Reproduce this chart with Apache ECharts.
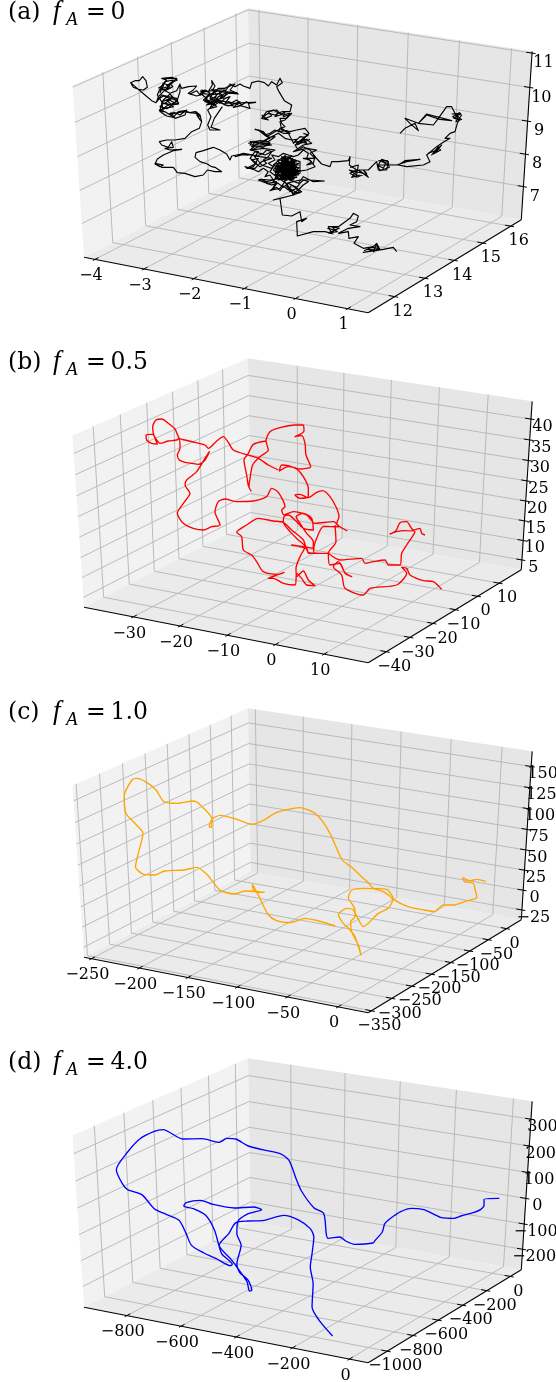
<!DOCTYPE html>
<html><head><meta charset="utf-8">
<style>html,body{margin:0;padding:0;background:#fff}#c{width:556px;height:1382px}</style>
<script src="https://cdn.jsdelivr.net/npm/echarts@6/dist/echarts.min.js"></script>
</head><body><div id="c"></div>
<script>
// ---- axis values ----
const panelLetters=['(a)','(b)','(c)','(d)'];
const panelValues=['0','0.5','1.0','4.0'];
const lineColors=['#000000','#ff0000','#ffa500','#0000ff'];
const xLimA=[-4.225,1.39], yLimA=[11.15,16.39], zLimA=[5.96,11.05];
const xLimB=[-40.7,18.9], yLimB=[-47.5,20.5], zLimB=[2.47,44.2];
const xLimC=[-257.7,29.2], yLimC=[-357.6,41], zLimC=[-37.4,167.6];
const xLimD=[-960,64.8], yLimD=[-1144,96], zLimD=[-282,365.7];
const xTicksA=[-4,-3,-2,-1,0,1], yTicksA=[12,13,14,15,16], zTicksA=[7,8,9,10,11];
const xTicksB=[-30,-20,-10,0,10], yTicksB=[-40,-30,-20,-10,0,10], zTicksB=[5,10,15,20,25,30,35,40];
const xTicksC=[-250,-200,-150,-100,-50,0], yTicksC=[-350,-300,-250,-200,-150,-100,-50,0], zTicksC=[-25,0,25,50,75,100,125,150];
const xTicksD=[-800,-600,-400,-200,0], yTicksD=[-1000,-800,-600,-400,-200,0], zTicksD=[-200,-100,0,100,200,300];

// ---- trajectories (projected onto the picture plane) ----
const a1=[[32,68],[45,62],[58,62],[68,50],[78,62],[82,82],[70,90],[55,88],[40,82],[32,68],[55,88],[75,105],[95,122],[108,128],[115,118],[130,108],[150,115],[170,120],[176,132],[155,135],[130,130],[120,140],[140,146],[165,130],[145,118],[125,125],[112,105],[118,90],[130,70],[150,78],[125,86],[120,98],[128,72],[140,62],[130,55],[155,52],[172,60],[150,70],[158,80],[135,92],[150,100],[170,92],[180,72],[186,70],[180,95],[172,120],[155,135],[125,128],[130,155],[118,150],[125,158],[140,168],[160,172],[175,155],[195,152],[210,158],[225,155],[240,170],[228,155],[240,165],[245,185],[238,205],[215,215],[195,235],[165,240],[140,240],[118,245],[125,255],[145,262],[155,245],[160,262],[135,265],[150,270],[185,268],[160,272],[130,285],[112,297],[105,312],[120,320],[130,315],[105,310],[125,322],[160,322],[172,338],[195,340],[225,350],[250,345],[262,330],[285,335],[305,335],[285,322],[275,320],[262,312],[240,305],[225,292],[228,278],[250,272],[280,262],[300,270],[320,282],[330,300],[335,288],[365,282],[385,285]];
const a2=[[165,45],[170,55],[190,50],[215,48],[205,60],[190,70],[215,78],[235,72],[230,60],[250,65],[262,45],[260,32],[270,48],[262,62],[240,65],[225,70],[245,85],[250,100],[235,90],[255,75],[285,70],[300,60],[270,60],[255,85],[275,95],[295,75],[280,80],[265,105],[250,95],[290,85],[310,70],[335,68],[300,65],[315,42],[330,50],[345,42],[355,48],[375,55],[380,38],[400,33],[418,38],[430,48],[440,35],[455,45],[465,25],[472,38],[455,50],[462,65],[478,92],[500,105],[495,125],[470,125]];
const a2b=[[240,85],[255,100],[275,90],[300,95],[330,100],[360,98],[392,97],[370,100],[375,115],[340,105],[310,95],[325,108],[300,105],[285,95],[260,110],[248,120],[258,140],[248,165],[255,180],[285,180],[258,172],[268,145],[292,110]];
const a3=[[140,35],[120,45],[100,40],[85,50],[100,60],[80,55],[95,35],[125,30],[140,45],[165,40],[150,60],[135,65],[140,90],[165,95],[185,90],[210,85],[222,100],[205,115],[185,130],[215,118],[175,128],[160,100],[140,85],[120,95],[95,110],[70,90],[85,100],[105,115],[70,130],[45,125],[85,130],[110,135],[70,140],[50,150],[85,145],[120,150],[90,165],[60,155],[45,175],[65,190],[35,205],[60,205],[80,185],[110,175],[75,170],[50,165],[20,165],[0,170],[25,160],[55,165],[80,195],[110,205],[130,180],[155,170],[180,180],[175,215],[140,230],[115,210],[130,190],[165,190],[190,205],[165,235],[130,240],[120,215],[150,180],[180,195],[170,225],[135,215],[125,195],[160,175],[195,185],[195,220],[150,240],[120,235],[140,200],[175,200],[160,230],[130,225],[140,185],[165,215],[150,195],[135,235],[180,210],[145,170],[115,195],[155,220],[175,180],[130,205],[165,170],[190,225],[140,215],[150,165],[170,240],[120,225],[145,245],[175,230],[105,240],[75,238],[100,250],[125,245],[110,270],[135,265],[150,245],[165,275],[185,265],[200,275],[175,285],[155,250],[195,240],[225,240],[268,243],[235,245],[205,230],[190,250],[165,240],[185,215],[215,210],[240,200],[225,180],[205,175],[240,175],[225,160],[245,150],[215,145],[195,150],[175,155],[205,135],[230,130],[215,118]];
const a4=[[190,195],[215,222],[240,230],[245,215],[265,215],[295,212],[300,200],[298,225],[320,240],[300,250],[320,262],[350,250],[340,240],[355,262],[325,240],[355,240],[380,215],[385,240],[410,240],[415,215],[395,208],[385,225],[405,225],[440,225],[470,215],[510,208],[465,212],[445,225],[470,230],[520,225],[540,215],[530,195],[560,170],[575,160],[600,145],[585,145],[600,130],[615,125],[622,100],[630,85],[615,70],[635,75],[625,90],[605,50],[590,50],[565,85],[550,105],[505,100],[530,72],[605,92],[570,88],[530,75],[505,100],[465,85],[480,100],[505,122],[495,100],[465,115],[450,130]];
const a5=[[144,310],[110,290],[125,300],[130,315],[90,325],[70,330],[90,325],[97,375],[125,378],[150,365],[155,395],[170,385],[140,395],[142,438],[190,425],[225,425],[245,430],[235,410],[265,410],[300,385],[310,370],[325,378],[320,395],[300,405],[330,410],[295,415],[265,430],[295,425],[297,445],[325,440],[312,460],[340,475],[370,470],[380,460],[390,480],[340,487],[400,478],[430,472],[440,485]];
const a6=[[40,130],[60,125],[50,140],[75,128],[100,130],[85,142],[60,138],[45,150],[70,155],[60,170],[85,160],[95,150],[110,155],[100,170],[85,180],[95,190],[75,200],[60,190],[50,180],[70,175],[55,200],[40,205],[30,200],[55,208],[70,215],[85,205],[100,215],[90,230],[105,225],[115,240],[95,245],[80,238],[70,240],[95,250],[110,255],[125,250],[115,265],[105,272],[125,262],[135,272],[145,258],[160,270],[170,255],[185,262],[195,250],[205,240],[220,245],[205,255],[190,270],[175,280],[195,278],[180,262],[160,250],[145,262],[130,250],[115,245],[125,230],[105,215],[115,200],[100,190],[120,180],[110,165],[130,170],[145,160],[160,165],[175,170],[190,165],[205,150],[220,160],[215,175],[230,185],[215,195],[235,190],[240,170],[225,150],[205,140],[190,150],[180,135],[195,125],[215,130],[205,115],[220,105],[205,100]];
const a7=[[125,180],[185,186],[130,190],[190,195],[125,198],[192,203],[122,208],[195,212],[125,216],[190,222],[130,226],[185,232],[135,236],[175,240],[150,172],[155,240],[140,176],[165,242],[130,184],[175,238],[122,195],[185,228],[118,205],[190,218],[128,222],[160,170],[148,235],[172,175],[140,230],[182,180],[132,215],[192,190],[128,205],[170,168],[122,215],[185,200],[140,170],[178,236],[125,190],[165,228],[145,180],[168,205],[150,190],[175,215],[142,205],[160,218],[135,195],[180,208],[155,175],[150,225],[170,195],[138,222],[188,212],[146,198],[158,232],[128,200],[178,190]];
const a8=[[80,45],[90,55],[110,48],[100,35],[115,30],[130,38],[120,50],[135,45],[150,35],[145,50],[160,45],[170,40],[155,55],[135,55],[140,70],[150,80],[135,85],[130,95],[155,92],[165,100],[145,100],[120,90],[105,100],[90,105],[75,92],[60,88],[85,95],[100,112],[120,110],[100,125],[75,122],[50,128],[45,135],[75,135],[105,130],[90,120],[130,100],[150,115],[170,120],[185,118],[175,130],[195,110],[210,112],[200,125],[185,135],[215,122],[225,118]];
const a9=[[195,72],[215,62],[225,75],[240,60],[255,70],[245,80],[265,68],[280,62],[290,75],[305,68],[295,85],[280,70],[265,85],[250,75],[240,95],[255,90],[270,80],[285,100],[300,85],[315,80],[300,100],[320,98],[335,90],[350,105],[365,95],[345,108],[325,112],[345,95],[310,108],[280,95],[265,100],[245,105],[260,95],[275,110],[255,115],[275,75],[260,58],[290,65],[320,70],[340,72],[315,60],[330,42],[300,55],[280,55],[262,72],[240,72],[225,62]];
const a10=[[100,55],[115,45],[125,30],[110,25],[130,25],[155,25],[140,40],[125,45],[135,55],[110,60],[120,35],[145,30],[130,50],[100,80],[95,95],[110,75],[130,80],[155,85],[160,100],[135,105],[120,100],[140,85],[125,90],[145,110],[120,115],[105,120],[115,90],[135,72],[155,95],[125,108],[105,125],[120,125],[145,140],[135,130],[150,128],[165,135],[185,120],[180,135],[150,145],[140,132],[175,125],[195,128],[215,130],[225,150],[215,135],[230,155]];
const a11=[[605,72],[632,70],[612,85],[635,88],[618,95],[628,68],[608,80],[630,92]];
const a12=[[385,212],[412,212],[418,232],[390,242],[382,225],[400,235],[408,218],[392,212],[415,225]];
const a13=[[300,232],[325,225],[320,255],[298,240],[340,250],[322,240],[305,262],[330,255]];
const a14=[[535,190],[555,182],[545,195],[565,170],[572,180],[550,192],[575,165],[560,185]];
const a15=[[342,482],[365,472],[385,475],[370,485],[378,465],[390,478],[360,482],[380,480],[350,478],[372,470]];
const a16=[[232,415],[255,420],[240,428],[262,425],[245,410],[268,415],[235,428],[250,432]];
const b1=[[622,348],[590,325],[597,305],[590,280],[570,245],[548,227],[530,232],[505,248],[480,238],[465,240],[480,250],[505,245],[505,220],[490,185],[470,162],[445,155],[418,168],[425,150],[445,152],[480,162],[512,155],[498,120],[495,85],[485,62],[465,65],[492,48],[490,30],[465,30],[420,38],[390,50],[378,78],[385,105],[360,125],[338,150],[330,190],[327,215],[333,228],[325,212],[320,180],[312,135],[325,115],[340,88],[378,78]];
const b2=[[415,165],[385,150],[355,130],[330,122],[280,105],[265,82],[250,65],[228,80],[205,100],[195,90],[165,82],[135,75],[118,70],[105,42],[85,25],[65,12],[48,15],[38,35],[40,55],[45,70],[52,87],[35,85],[20,75],[18,60],[38,58],[48,72],[60,85],[85,78],[110,75],[118,70],[120,100],[112,120],[118,135],[135,142],[155,145],[175,148],[195,135],[208,110],[195,130],[170,170],[140,195],[135,210],[150,235],[130,265],[112,295],[130,325],[160,340],[190,345],[215,335],[240,330],[225,290],[235,260],[255,252],[290,260],[340,258],[380,245],[395,220],[415,232],[435,275],[425,285],[432,300],[460,290],[500,300],[525,325],[580,320],[597,335],[550,335],[530,370],[522,395],[520,415],[505,415],[500,400],[455,390],[490,395],[520,400],[520,380],[500,355],[480,325],[468,305],[490,295],[515,310],[520,345],[490,340],[470,320],[445,300],[432,305],[430,320],[450,350],[475,375],[495,395],[480,425],[468,460],[470,485],[490,468],[505,495],[525,512],[500,510],[485,490],[470,475],[465,510],[430,505],[400,490],[385,490],[410,480],[432,472],[415,478],[370,470],[350,440],[335,420],[310,405],[305,365],[290,352],[320,330],[355,310],[400,318],[430,322],[455,345],[490,375],[505,412],[540,415],[565,415]];
const b3=[[295,130],[330,150],[395,145],[405,160],[430,155],[465,150],[475,165],[510,165],[515,130],[530,105],[555,65],[525,62],[500,65],[480,72],[498,62],[510,38],[530,35],[550,60],[570,55],[575,70],[585,75]];
const b4=[[315,45],[318,95],[295,130],[300,165],[330,160],[345,190],[365,200],[345,188],[325,155],[310,170],[335,195],[345,235],[400,255],[420,235],[500,225],[530,190],[515,172],[530,175],[540,195],[580,212],[610,215],[635,238]];
const c1=[[1370,575],[1345,568],[1325,572],[1305,563],[1310,575],[1335,580],[1340,600],[1345,622],[1310,635],[1280,645],[1250,645],[1225,665],[1195,660],[1150,650],[1110,628]];
const c2=[[218,50],[200,28],[130,25],[95,30],[85,55],[95,70],[105,90],[105,110],[92,125],[95,155],[115,195],[123,225],[105,170],[90,150],[70,130],[55,105],[80,85],[100,90],[115,118],[130,140],[175,100],[205,85],[218,60],[190,35],[160,25],[135,0]];
const c3=[[1029,570],[990,530],[965,510],[935,440],[910,395],[885,368],[845,353],[780,367],[745,390],[710,403],[660,385],[620,376],[598,388],[590,410],[597,412],[598,388],[560,340],[545,333],[500,340],[462,335],[440,300],[410,275],[385,265],[372,270],[350,320],[355,370],[385,405],[403,430],[390,490],[382,530],[405,553],[435,555],[465,543],[520,540],[555,532],[585,555],[620,600],[660,612],[690,603],[745,607],[715,600],[712,583],[733,625],[755,672],[780,692],[820,698],[860,685],[900,693],[945,708]];
const d1=[[1408,484],[1365,487],[1365,505],[1355,518],[1335,527],[1300,537],[1280,544],[1245,542],[1220,530],[1195,518],[1160,514],[1130,524],[1100,545],[1085,560],[1078,585],[1058,610],[1052,618],[1000,622],[975,612],[958,600],[925,604],[920,590],[913,530],[885,512],[850,462],[835,425],[815,370],[790,350],[740,338],[700,327],[665,306],[640,304],[618,316],[570,305],[515,306],[460,278],[435,283],[395,305],[360,345],[328,398],[345,440],[360,458],[400,473],[435,515],[470,533],[505,550],[525,590],[540,625],[575,648],[610,665],[650,686],[655,682],[625,650],[605,580],[580,535],[545,515],[518,507],[525,497],[565,490],[600,502],[660,513],[715,510],[738,518],[700,530],[670,555],[668,590],[680,625],[668,680],[675,705],[700,730],[710,760],[703,762],[697,735],[668,690],[650,665],[618,625],[645,590],[665,557],[700,552],[745,550],[800,535],[840,548],[875,575],[885,600],[880,650],[875,690],[883,740],[880,810],[900,850],[938,897]];

// picture-plane readings: either from a 3x crop or from the whole-panel view
const cropTops=[0,345,690,1037], panelTop=[0,350,700,1050];
const fromCrop=(pts,x0,y0,i)=>pts.map(p=>[x0+p[0]/3,y0+p[1]/3-panelTop[i]]);
const fromFull=(pts,i)=>pts.map(p=>[p[0]/2.82,cropTops[i]+p[1]/3-panelTop[i]]);
const paths=[
 [fromCrop(a1,120,60,0),fromCrop(a2,125,70,0),fromCrop(a2b,125,70,0),fromCrop(a3,235,100,0),fromCrop(a4,250,90,0),fromCrop(a5,250,90,0),
  fromCrop(a6,235,100,0),fromCrop(a7,235,100,0),fromCrop(a8,235,100,0),fromCrop(a9,125,70,0),fromCrop(a10,125,70,0),
  fromCrop(a11,250,90,0),fromCrop(a12,250,90,0),fromCrop(a13,250,90,0),fromCrop(a14,250,90,0),fromCrop(a15,250,90,0),fromCrop(a16,250,90,0)],
 [fromCrop(b1,140,415,1),fromCrop(b2,140,415,1),fromCrop(b3,230,510,1),fromCrop(b4,230,510,1)],
 [fromFull(c1,2).concat(fromCrop(c2,320,880,2),fromFull(c3,2))],
 [fromFull(d1,3)]
];
const limits=[[xLimA,yLimA,zLimA],[xLimB,yLimB,zLimB],[xLimC,yLimC,zLimC],[xLimD,yLimD,zLimD]];
const ticks=[[xTicksA,yTicksA,zTicksA],[xTicksB,yTicksB,zTicksB],[xTicksC,yTicksC,zTicksC],[xTicksD,yTicksD,zTicksD]];

// matplotlib's default 3D view (azim -60, elev 30, dist 10)
function project(u,v,w){
  const dx=u-.5,dy=v-.5,dz=w-.5;
  const xc=.866*dx+.5*dy, yc=-.25*dx+.433*dy+.866*dz, depth=10-(.433*dx-.75*dy+.5*dz);
  return [84+(xc/depth+.0677)*3280, 257.3-(yc/depth+.05197)*1963];
}
const GRID='#b4b4b4', FONT='"DejaVu Serif"';
const zLabelDy=[10,7.5,7.5,7.5];
const fmt=v=>String(v).replace('-','\u2212');
function buildPrims(i){
  const [xl,yl,zl]=limits[i],[xt,yt,zt]=ticks[i],P=[];
  const nx=v=>(v-xl[0])/(xl[1]-xl[0]),ny=v=>(v-yl[0])/(yl[1]-yl[0]),nz=v=>(v-zl[0])/(zl[1]-zl[0]);
  const poly=(c,...pts)=>P.push({k:'p',pts:pts.map(p=>project(...p)),c});
  const line=(c,w,...pts)=>P.push({k:'l',pts:pts.map(p=>project(...p)),c,w});
  const text=(s,pos,o)=>P.push(Object.assign({k:'t',s,pos},o));
  poly('#f2f2f2',[0,0,0],[0,1,0],[0,1,1],[0,0,1]);
  poly('#e6e6e6',[0,1,0],[1,1,0],[1,1,1],[0,1,1]);
  poly('#ebebeb',[0,0,0],[1,0,0],[1,1,0],[0,1,0]);
  xt.forEach(v=>{const t=nx(v);line(GRID,.9,[t,0,0],[t,1,0],[t,1,1]);});
  yt.forEach(v=>{const t=ny(v);line(GRID,.9,[1,t,0],[0,t,0],[0,t,1]);});
  zt.forEach(v=>{const t=nz(v);line(GRID,.9,[0,0,t],[0,1,t],[1,1,t]);});
  line('#000',1.1,[0,0,0],[1,0,0]);
  line('#000',1.1,[1,0,0],[1,1,0]);
  line('#000',1.1,[1,1,0],[1,1,1]);
  const lab=(v,p,dx,dy)=>{const q=project(...p);text(fmt(v),[q[0]+dx,q[1]+dy],{font:'16px '+FONT,a:'center',b:'middle'});};
  xt.forEach(v=>{const t=nx(v);line('#000',1,[t,-.012,0],[t,.02,0]);lab(v,[t,0,0],-4,16.5);});
  yt.forEach(v=>{const t=ny(v);line('#000',1,[1.012,t,0],[.98,t,0]);lab(v,[1,t,0],8,15);});
  zt.forEach(v=>{const t=nz(v);line('#000',1,[1.012,1,t],[.98,1,t]);lab(v,[1,1,t],11.5,zLabelDy[i]);});
  // title
  text(panelLetters[i],[8,12.8],{font:'23.5px '+FONT,a:'left',b:'middle'});
  text('f',[53,12],{font:'italic 27px "Liberation Serif"',a:'left',b:'middle'});
  text('A',[66,20],{font:'italic 19px "Liberation Serif"',a:'left',b:'middle'});
  text('=',[86,12.8],{font:'23.5px '+FONT,a:'left',b:'middle'});
  text(panelValues[i],[110.5,12.8],{font:'23.5px '+FONT,a:'left',b:'middle'});
  return P;
}
function renderer(prims){
  return function(params,api){
    const p=prims[params.dataIndex];
    if(p.k==='p') return {type:'polygon',shape:{points:p.pts.map(q=>api.coord(q))},style:{fill:p.c}};
    if(p.k==='l') return {type:'polyline',shape:{points:p.pts.map(q=>api.coord(q))},style:{stroke:p.c,lineWidth:p.w,fill:null}};
    const c=api.coord(p.pos);
    return {type:'text',style:{text:p.s,x:c[0],y:c[1],font:p.font,fill:'#000',align:p.a,verticalAlign:p.b}};
  };
}
const grid=[],xAxis=[],yAxis=[],series=[];
panelTop.forEach((top,i)=>{
  grid.push({left:0,top:top,width:556,height:332});
  xAxis.push({type:'value',gridIndex:i,min:0,max:556,show:false});
  yAxis.push({type:'value',gridIndex:i,min:0,max:332,inverse:true,show:false});
  const prims=buildPrims(i);
  series.push({type:'custom',xAxisIndex:i,yAxisIndex:i,silent:true,clip:false,z:1,animation:false,
    data:prims.map(()=>[0,0]),renderItem:renderer(prims)});
  paths[i].forEach(d=>series.push({type:'line',xAxisIndex:i,yAxisIndex:i,data:d,showSymbol:false,symbol:'none',silent:true,clip:false,z:3,animation:false,
    smooth:i===0?0:.25,lineStyle:{color:lineColors[i],width:i===0?1.15:1.35,join:'round'}}));
});
const chart=echarts.init(document.getElementById('c'),null,{renderer:'canvas'});
chart.setOption({animation:false,backgroundColor:'#fff',grid,xAxis,yAxis,series,tooltip:{show:false}});
</script></body></html>
